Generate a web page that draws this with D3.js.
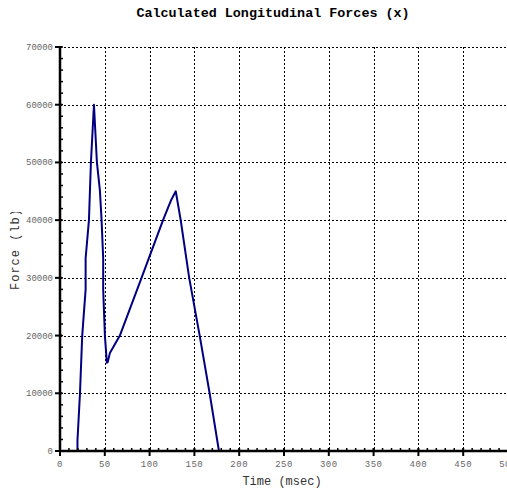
<!DOCTYPE html>
<html>
<head>
<meta charset="utf-8">
<script src="https://cdn.jsdelivr.net/npm/d3@7"></script>
<style>
  html, body { margin: 0; padding: 0; background: #fff; }
  svg { display: block; }
</style>
</head>
<body>
<svg id="chart" width="507" height="488"></svg>
<script>
// Longitudinal force history (time in msec, force in lb)
const timeMs = [19.5, 19.5, 20.0, 21.2, 22.3, 24.8, 28.6, 28.6, 32.3, 34.5, 37.9,
                41.2, 44.5, 46.4, 48.2, 48.2, 50.1, 52.3, 53.3, 55.7, 66.8,
                91.0, 115.0, 124.1, 129.2, 134.7, 144.2, 155.9, 167.0, 177.4];
const forceLb = [0, 1900, 3300, 6800, 10000, 20000, 28000, 33400, 40000, 50000, 60000,
                 50000, 45200, 40000, 33400, 28000, 20000, 15300, 15400, 17000, 20000,
                 30000, 40000, 43500, 45000, 40000, 30000, 20000, 10000, 0];

const xTicks = [0, 50, 100, 150, 200, 250, 300, 350, 400, 450, 500];
const yTicks = [0, 10000, 20000, 30000, 40000, 50000, 60000, 70000];
const xMinor = d3.range(0, 501, 10);
const yMinor = d3.range(0, 70001, 2000);

const titleText = "Calculated Longitudinal Forces (x)";
const xLabel = "Time (msec)";
const yLabel = "Force (lb)";

const svg = d3.select("#chart");
const plotLeft = 60, plotRight = 508, plotTop = 47, plotBottom = 451;
const mono = "'Liberation Mono', 'Courier New', monospace";

const x = d3.scaleLinear().domain([0, 500]).range([plotLeft, plotRight]);
const y = d3.scaleLinear().domain([0, 70000]).range([plotBottom, plotTop]);

svg.append("rect").attr("width", 507).attr("height", 488).attr("fill", "#fff");

// title
svg.append("text")
  .attr("x", 273).attr("y", 17)
  .attr("text-anchor", "middle")
  .attr("font-family", mono).attr("font-weight", "bold").attr("font-size", 13.4)
  .attr("fill", "#000")
  .text(titleText);

// dashed grid
const grid = svg.append("g").attr("stroke", "#000").attr("stroke-width", 1)
  .attr("stroke-dasharray", "2,2").attr("shape-rendering", "crispEdges");
grid.selectAll("line.gx").data(xTicks.filter(t => t > 0)).join("line")
  .attr("x1", d => Math.round(x(d)) + 0.5).attr("x2", d => Math.round(x(d)) + 0.5)
  .attr("y1", plotTop).attr("y2", plotBottom);
grid.selectAll("line.gy").data(yTicks.filter(t => t > 0)).join("line")
  .attr("y1", d => Math.round(y(d)) + 0.5).attr("y2", d => Math.round(y(d)) + 0.5)
  .attr("x1", plotLeft).attr("x2", plotRight);

// force curve
const line = d3.line().x((d, i) => x(timeMs[i])).y(d => y(d));
svg.append("path")
  .datum(forceLb)
  .attr("d", line)
  .attr("fill", "none")
  .attr("stroke", "#000080")
  .attr("stroke-width", 2)
  .attr("stroke-linejoin", "round");

// y axis
const yAxis = svg.append("g").attr("transform", `translate(${plotLeft},0)`);
yAxis.selectAll("line.minor").data(yMinor).join("line")
  .attr("x1", 0).attr("x2", 3)
  .attr("y1", d => y(d)).attr("y2", d => y(d))
  .attr("stroke", "#000").attr("stroke-width", 1.5);
yAxis.selectAll("line.major").data(yTicks).join("line")
  .attr("x1", -5).attr("x2", 2)
  .attr("y1", d => y(d)).attr("y2", d => y(d))
  .attr("stroke", "#000").attr("stroke-width", 2);
yAxis.append("line")
  .attr("x1", 0).attr("x2", 0).attr("y1", plotTop).attr("y2", plotBottom + 1)
  .attr("stroke", "#000").attr("stroke-width", 2.5);
yAxis.selectAll("text").data(yTicks).join("text")
  .attr("x", -7).attr("y", d => y(d) + 3)
  .attr("text-anchor", "end")
  .attr("font-family", mono).attr("font-size", 9).attr("fill", "#666")
  .text(d => d);

// x axis
const xAxis = svg.append("g").attr("transform", `translate(0,${plotBottom})`);
xAxis.selectAll("line.minor").data(xMinor).join("line")
  .attr("y1", 0).attr("y2", -3)
  .attr("x1", d => x(d)).attr("x2", d => x(d))
  .attr("stroke", "#000").attr("stroke-width", 1.5);
xAxis.selectAll("line.major").data(xTicks).join("line")
  .attr("y1", -3).attr("y2", 5)
  .attr("x1", d => x(d)).attr("x2", d => x(d))
  .attr("stroke", "#000").attr("stroke-width", 2);
xAxis.append("line")
  .attr("x1", plotLeft - 1).attr("x2", plotRight).attr("y1", 0).attr("y2", 0)
  .attr("stroke", "#000").attr("stroke-width", 2.5);
xAxis.selectAll("text").data(xTicks).join("text")
  .attr("x", d => x(d)).attr("y", 16)
  .attr("text-anchor", "middle")
  .attr("font-family", mono).attr("font-size", 9).attr("fill", "#666")
  .attr("letter-spacing", 0.5)
  .text(d => d);

// axis titles
svg.append("text")
  .attr("x", 282).attr("y", 485)
  .attr("text-anchor", "middle")
  .attr("font-family", mono).attr("font-size", 12).attr("fill", "#333")
  .text(xLabel);

svg.append("defs").append("clipPath").attr("id", "ylab-clip")
  .append("rect").attr("x", 0).attr("y", 212).attr("width", 40).attr("height", 120);
svg.append("g").attr("clip-path", "url(#ylab-clip)")
  .append("text")
  .attr("transform", "translate(19,290) rotate(-90)")
  .attr("text-anchor", "start")
  .attr("font-family", mono).attr("font-size", 12).attr("fill", "#333")
  .attr("letter-spacing", 1)
  .text(yLabel);
</script>
</body>
</html>
